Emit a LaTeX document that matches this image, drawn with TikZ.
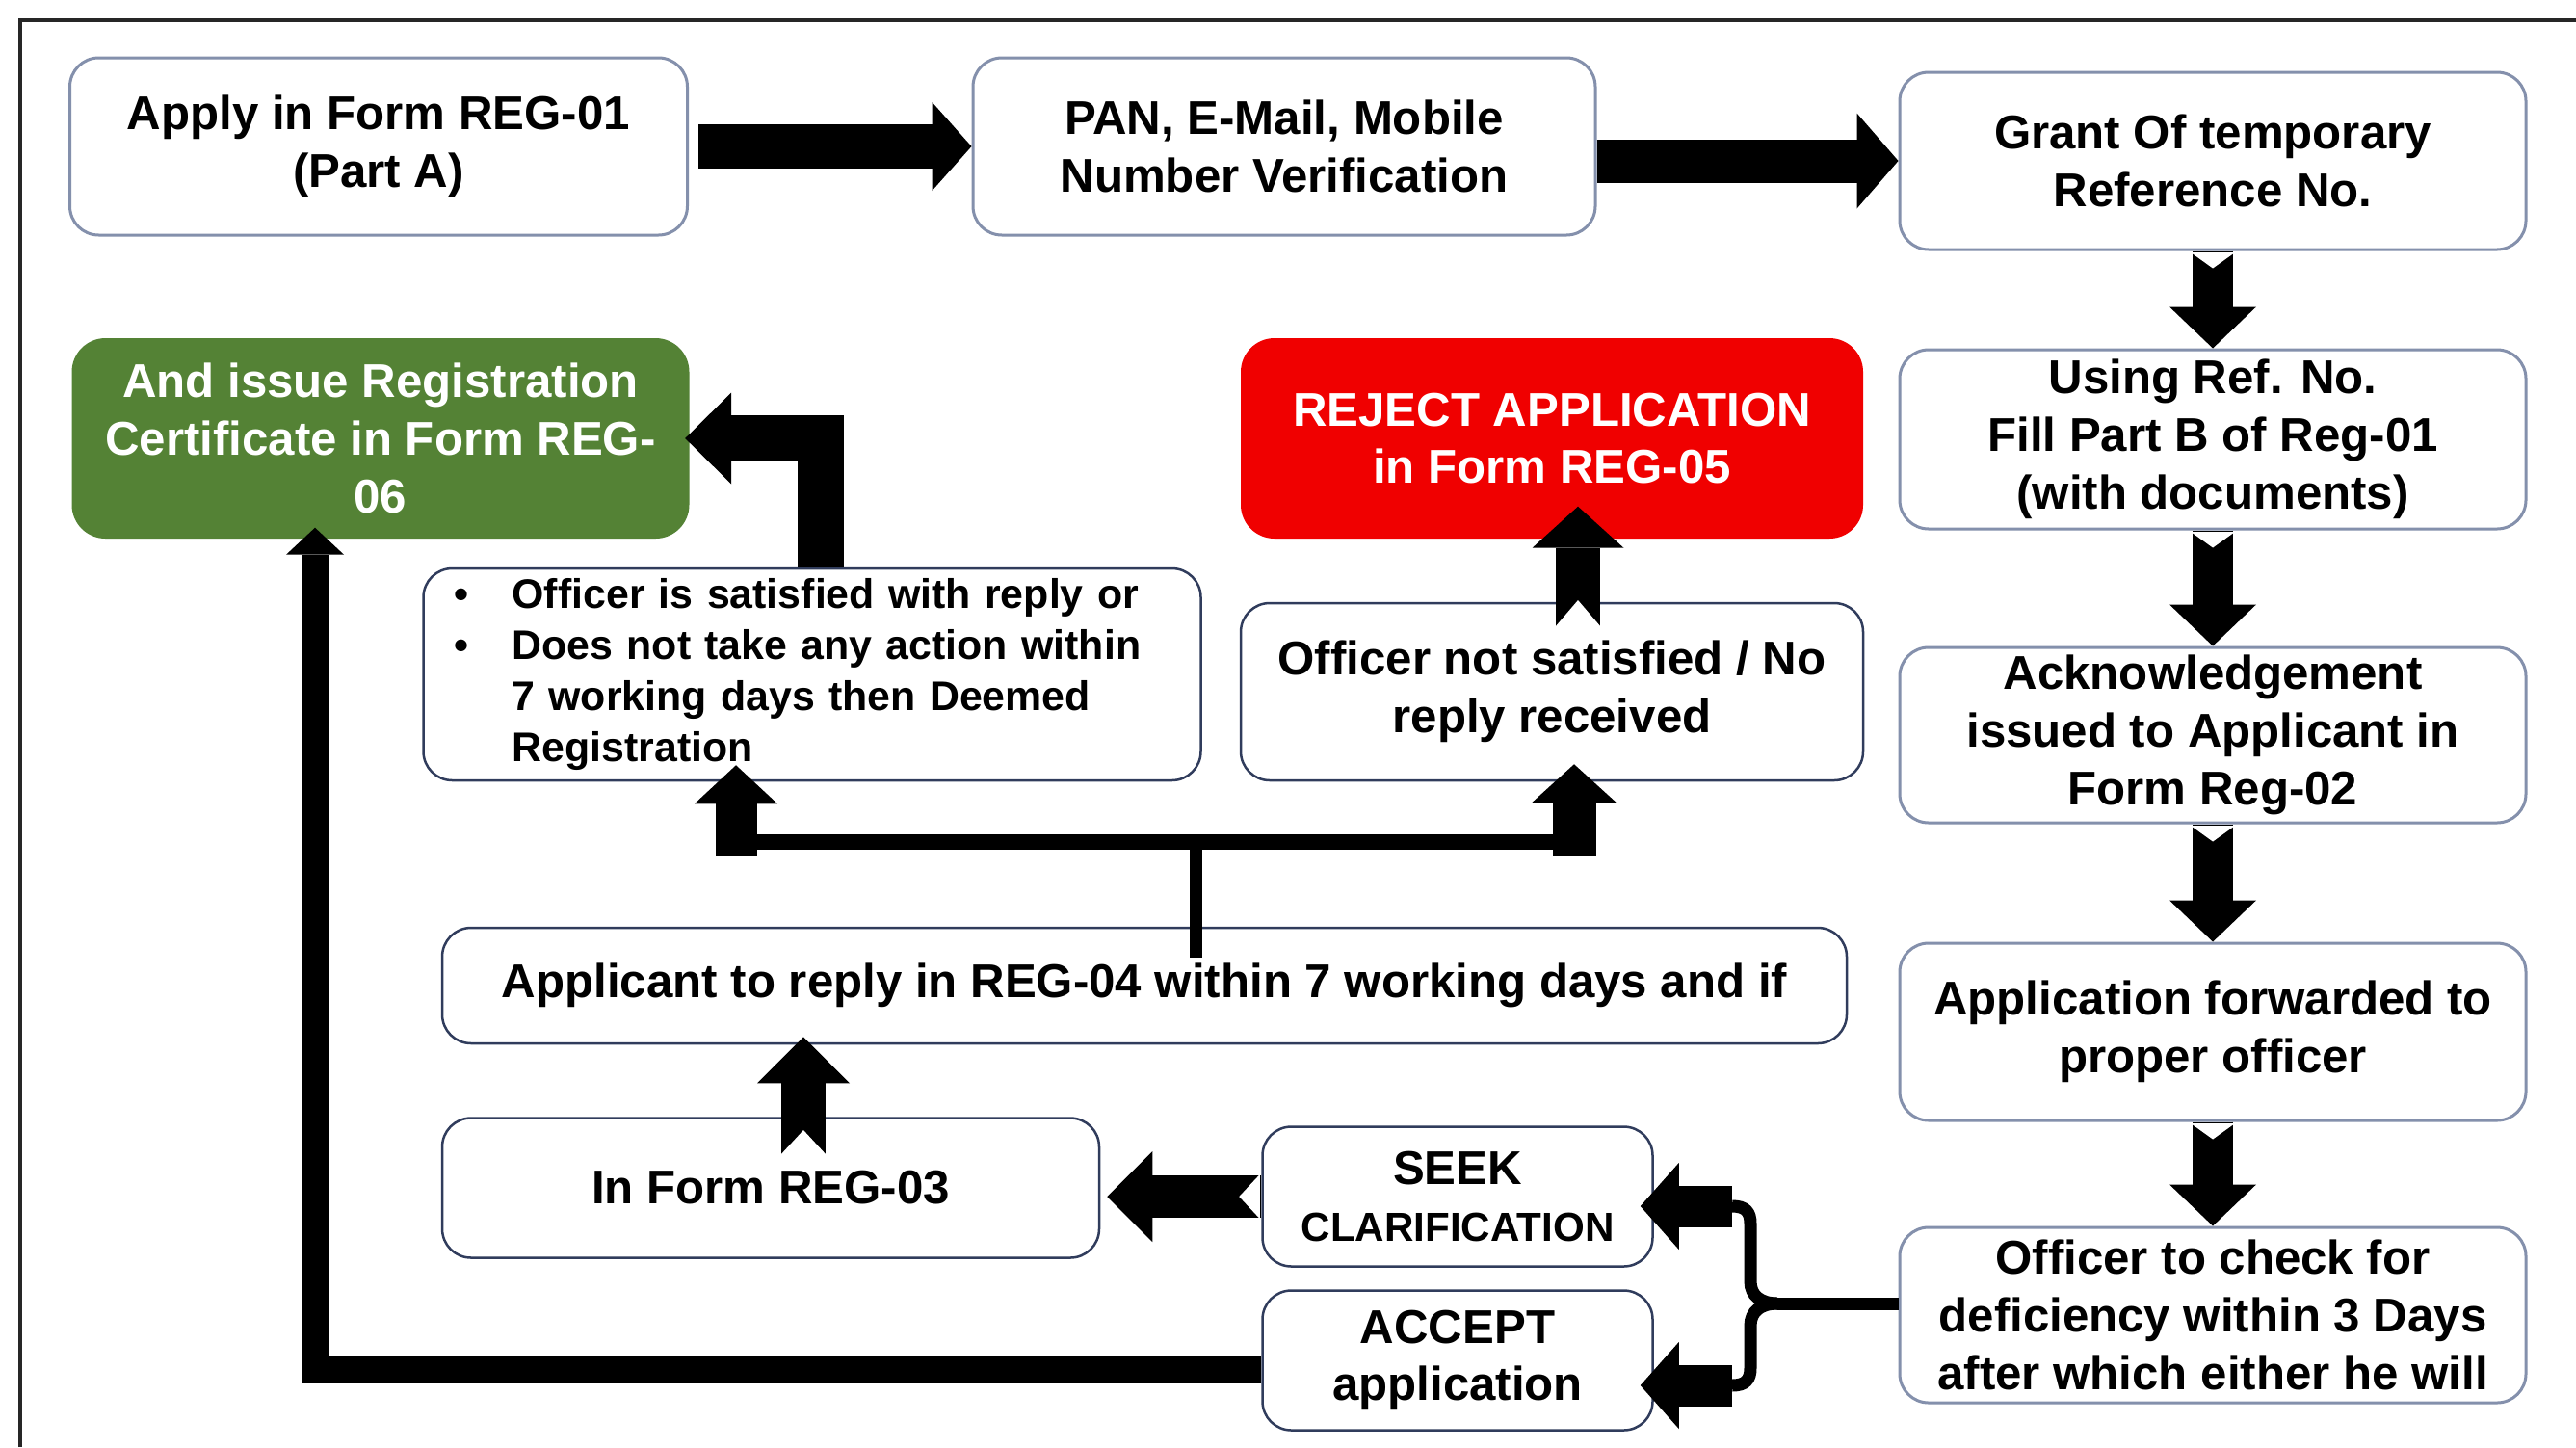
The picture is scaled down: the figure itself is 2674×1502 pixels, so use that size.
\documentclass[tikz,border=0pt]{standalone}
\usepackage{fontspec}
\setmainfont{Liberation Sans}
\usetikzlibrary{arrows.meta,calc}
\definecolor{lborder}{RGB}{132,144,172}
\definecolor{dborder}{RGB}{48,60,92}
\definecolor{grn}{RGB}{84,130,53}
\definecolor{rd}{RGB}{240,0,0}
\begin{document}
\begin{tikzpicture}[x=0.1mm,y=-0.1mm,
  txt/.style={font=\fontsize{14pt}{17pt}\selectfont\bfseries, align=center, inner sep=0pt},
  lbox/.style={txt, draw=lborder, line width=0.3mm, fill=white, rounded corners=3mm},
  dbox/.style={txt, draw=dborder, line width=0.25mm, fill=white, rounded corners=3mm},
  cbox/.style={txt, text=white, rounded corners=3.5mm},
  barrow/.style n args={3}{line width=#1, draw=black, -{Triangle[width=#2,length=#3,line width=0pt]}},
  conn/.style={line width=1.3mm, draw=black}
]
\useasboundingbox (0,0) rectangle (2674,1502);
\fill[white] (0,0) rectangle (2674,1502);
% frame
\draw[line width=0.4mm, black!85] (21,1502) -- (21,21) -- (2674,21);

% top row and right column
\node[lbox, minimum width=64.1mm, minimum height=18.4mm] (b1) at (393,152) {Apply in Form REG-01\\(Part A)};
\node[lbox, minimum width=64.6mm, minimum height=18.4mm] (b2) at (1333,152) {PAN, E-Mail, Mobile\\Number Verification};
\node[lbox, minimum width=65mm, minimum height=18.4mm] (b3) at (2297,167) {Grant Of temporary\\Reference No.};
\node[lbox, minimum width=65mm, minimum height=18.6mm] (b4) at (2297,456) {Using Ref. No.\\Fill Part B of Reg-01\\(with documents)};
\node[lbox, minimum width=65mm, minimum height=18.2mm] (b5) at (2297,763) {Acknowledgement\\issued to Applicant in\\Form Reg-02};
\node[lbox, minimum width=65mm, minimum height=18.4mm] (b6) at (2297,1071) {Application forwarded to\\proper officer};
\node[lbox, minimum width=65mm, minimum height=18.2mm] (b7) at (2297,1365) {Officer to check for\\deficiency within 3 Days\\after which either he will};

% coloured outcome boxes
\node[cbox, fill=grn, minimum width=64.1mm, minimum height=20.8mm] (green) at (395,455) {And issue Registration\\Certificate in Form REG-\\06};
\node[cbox, fill=rd, minimum width=64.6mm, minimum height=20.8mm] (red) at (1611,455) {REJECT APPLICATION\\in Form REG-05};

% middle boxes
\node[dbox, minimum width=80.7mm, minimum height=22mm, text width=75.5mm, align=left,
      font=\fontsize{12.2pt}{15.1pt}\selectfont\bfseries] (bul) at (843,700) {\noindent
\begin{tabular}{@{}p{6.6mm}@{}l@{}}
\hspace{0.6mm}\textbullet & Officer is satisfied with reply or\\
\hspace{0.6mm}\textbullet & Does not take any action within\\
 & 7 working days then Deemed\\
 & Registration
\end{tabular}};
\node[dbox, minimum width=64.6mm, minimum height=18.4mm] (notsat) at (1611,718) {Officer not satisfied / No\\reply received};
\node[dbox, minimum width=145.8mm, minimum height=12mm] (app) at (1188,1023) {Applicant to reply in REG-04 within 7 working days and if};
\node[dbox, minimum width=68.2mm, minimum height=14.5mm] (reg03) at (800,1233) {In Form REG-03};
\node[dbox, minimum width=40.5mm, minimum height=14.5mm] (seek) at (1513,1242) {SEEK\\{\fontsize{12pt}{14pt}\selectfont CLARIFICATION}};
\node[dbox, minimum width=40.5mm, minimum height=14.5mm] (accept) at (1513,1412) {ACCEPT\\application};

% top row arrows
\draw[barrow={4.6mm}{9.2mm}{4.1mm}, shorten <=1mm] (b1.east) -- (b2.west);
\draw[barrow={4.5mm}{9.9mm}{4.3mm}] (b2.east |- b3.west) -- (b3.west);

% right column arrows
\draw[barrow={4.2mm}{9mm}{4.3mm}] (b3.south) -- (b4.north);
\draw[barrow={4.2mm}{9mm}{4.3mm}] (b4.south) -- (b5.north);
\draw[barrow={4.2mm}{9mm}{4.3mm}] (b5.south) -- (b6.north);
\draw[barrow={4.2mm}{9mm}{4.3mm}] (b6.south) -- (b7.north);
\foreach \b in {b3,b4,b5,b6}{
  \fill[white] ($(\b.south)+(-23,1.5)$) -- ($(\b.south)+(23,1.5)$) -- ($(\b.south)+(0,18)$) -- cycle;
}

% fork from officer check
\coordinate (fj) at (1845,1353);
\coordinate (fs) at (1798,1252);
\coordinate (fa) at (1798,1438);
\draw[conn] (b7.west |- fj) -- (fj);
\draw[conn] (fs) .. controls (1812,1252) and (1817,1258) .. (1817,1270) -- (1817,1330) .. controls (1817,1345) and (1828,1353) .. (fj);
\draw[conn] (fa) .. controls (1812,1438) and (1817,1432) .. (1817,1420) -- (1817,1376) .. controls (1817,1361) and (1828,1353) .. (fj);
\draw[barrow={4.3mm}{9mm}{4mm}, shorten >=-1.4mm] (fs) -- (seek.east |- fs);
\draw[barrow={4.3mm}{9mm}{4mm}, shorten >=-1.4mm] (fa) -- (accept.east |- fa);

% seek -> REG-03
\draw[barrow={4.4mm}{9.4mm}{4.7mm}, shorten >=0.7mm] (seek.west) -- (reg03.east |- seek.west);
\fill[white] ($(seek.west)+(-1.5,-23)$) -- ($(seek.west)+(-1.5,23)$) -- ($(seek.west)+(-23,0)$) -- cycle;

% REG-03 -> applicant
\coordinate (ra) at (834,1198);
\draw[barrow={4.6mm}{9.6mm}{4.8mm}, shorten >=-0.8mm] (ra) -- (ra |- app.south);
\fill[white] ($(ra)+(-24,1)$) -- ($(ra)+(24,1)$) -- ($(ra)+(0,-25)$) -- cycle;

% applicant -> two outcomes
\coordinate (tj) at (1241,874);
\coordinate (tl) at (764,888);
\coordinate (tr) at (1634,888);
\draw[conn, shorten <=-3.2mm] (tj |- app.north) -- (tj);
\draw[line width=1.6mm] (tl |- tj) -- (tr |- tj);
\draw[barrow={4.3mm}{8.6mm}{4mm}, shorten >=-1.7mm] (tl) -- (tl |- bul.south);
\draw[barrow={4.5mm}{8.8mm}{4mm}, shorten >=-1.8mm] (tr) -- (tr |- notsat.south);

% not satisfied -> reject
\coordinate (nr) at (1638,650);
\draw[barrow={4.6mm}{9.5mm}{4.3mm}, shorten >=-3.4mm] (nr) -- (nr |- red.south);
\fill[white] ($(nr)+(-24,1)$) -- ($(nr)+(24,1)$) -- ($(nr)+(0,-27)$) -- cycle;

% satisfied -> registration (elbow)
\coordinate (el) at (852,455);
\draw[line width=4.8mm, line join=miter, -{Triangle[width=9.5mm,length=4.8mm,line width=0pt]}, shorten >=-0.5mm]
  (el |- bul.north) -- (el) -- (green.east |- el);

% accept -> registration
\coordinate (ag) at (327,1421);
\draw[line width=2.9mm, line join=miter, -{Triangle[width=6mm,length=2.8mm,line width=0pt]}, shorten >=-1.2mm]
  (accept.west |- ag) -- (ag) -- (ag |- green.south);
\end{tikzpicture}
\end{document}
